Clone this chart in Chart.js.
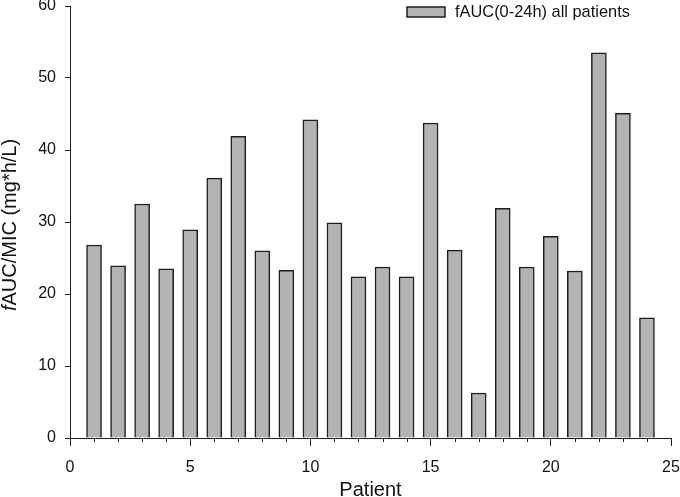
<!DOCTYPE html>
<html><head><meta charset="utf-8">
<script src="https://cdn.jsdelivr.net/npm/chart.js@4"></script>
<style>html,body{margin:0;padding:0;background:#fff}#wrap{width:680px;height:497px}</style>
</head><body><div id="wrap"><canvas id="c" width="680" height="497"></canvas></div>
<script>
const patients = [1,2,3,4,5,6,7,8,9,10,11,12,13,14,15,16,17,18,19,20,21,22,23,24];
const fAUC = [26.8,23.9,32.5,23.5,28.9,36.1,41.9,26.0,23.3,44.2,29.9,22.4,23.75,22.4,43.75,26.1,6.25,31.9,23.75,28.0,23.2,53.5,45.1,16.7];
const seriesLabel = 'fAUC(0-24h) all patients';
const xTitle = 'Patient';
const yTitleItalic = 'f';
const yTitleRest = 'AUC/MIC (mg*h/L)';
const FONT = '"Liberation Sans", Arial, sans-serif';

const extras = {
  id: 'extras',
  afterDraw(chart) {
    const ctx = chart.ctx, xs = chart.scales.x, ys = chart.scales.y;
    ctx.save();
    ctx.strokeStyle = '#222'; ctx.lineWidth = 1;
    for (let v = Math.ceil(xs.min); v <= xs.max; v++) {
      if (v % 5 === 0) continue;
      const px = Math.round(xs.getPixelForValue(v)) + 0.5;
      ctx.beginPath(); ctx.moveTo(px, ys.bottom); ctx.lineTo(px, ys.bottom + 4); ctx.stroke();
    }
    ctx.fillStyle = '#111';
    ctx.translate(10, (ys.top + ys.bottom) / 2 + 3);
    ctx.rotate(-Math.PI / 2);
    ctx.textBaseline = 'middle';
    ctx.font = 'italic 20px ' + FONT;
    const w1 = ctx.measureText(yTitleItalic).width;
    ctx.font = '20px ' + FONT;
    const w2 = ctx.measureText(yTitleRest).width;
    const start = -(w1 + w2) / 2;
    ctx.font = 'italic 20px ' + FONT;
    ctx.textAlign = 'left';
    ctx.fillText(yTitleItalic, start, 0);
    ctx.font = '20px ' + FONT;
    ctx.fillText(yTitleRest, start + w1, 0);
    ctx.restore();
    const ds = chart.data.datasets[0];
    ctx.save();
    ctx.fillStyle = ds.backgroundColor; ctx.strokeStyle = ds.borderColor; ctx.lineWidth = 1.5;
    ctx.fillRect(407, 7, 38, 10); ctx.strokeRect(407, 7, 38, 10);
    ctx.fillStyle = '#111'; ctx.font = '16.4px ' + FONT; ctx.textBaseline = 'middle'; ctx.textAlign = 'left';
    ctx.fillText(ds.label, 455, 12);
    ctx.restore();
  }
};

new Chart(document.getElementById('c'), {
  type: 'bar',
  data: {
    datasets: [{
      label: seriesLabel,
      data: patients.map((p, i) => ({x: p, y: fAUC[i]})),
      backgroundColor: '#b3b3b3',
      borderColor: '#1e1e1e',
      borderWidth: 1.5,
      barThickness: 15
    }]
  },
  plugins: [extras],
  options: {
    responsive: false,
    animation: false,
    layout: {padding: {left: 0, right: 9, top: 6, bottom: 0}},
    plugins: {legend: {display: false}, tooltip: {enabled: false}},
    scales: {
      x: {
        type: 'linear', min: 0, max: 25, offset: false,
        afterFit(s) { s.height = 59; s.paddingRight = 0; s.paddingLeft = 0; },
        grid: {offset: false, drawOnChartArea: false, drawTicks: true, tickLength: 8, color: '#222'},
        border: {color: '#222', width: 1},
        ticks: {stepSize: 5, color: '#111', font: {family: FONT, size: 16}, padding: 12},
        title: {display: true, text: xTitle, color: '#111', font: {family: FONT, size: 20}, padding: {top: 0, bottom: -5}}
      },
      y: {
        min: 0, max: 60,
        afterFit(s) { s.width = 70; s.paddingTop = 0; s.paddingBottom = 0; },
        grid: {drawOnChartArea: false, drawTicks: true, tickLength: 5, color: '#222'},
        border: {color: '#222', width: 1},
        ticks: {stepSize: 10, color: '#111', font: {family: FONT, size: 16}, padding: 9}
      }
    }
  }
});
</script></body></html>
